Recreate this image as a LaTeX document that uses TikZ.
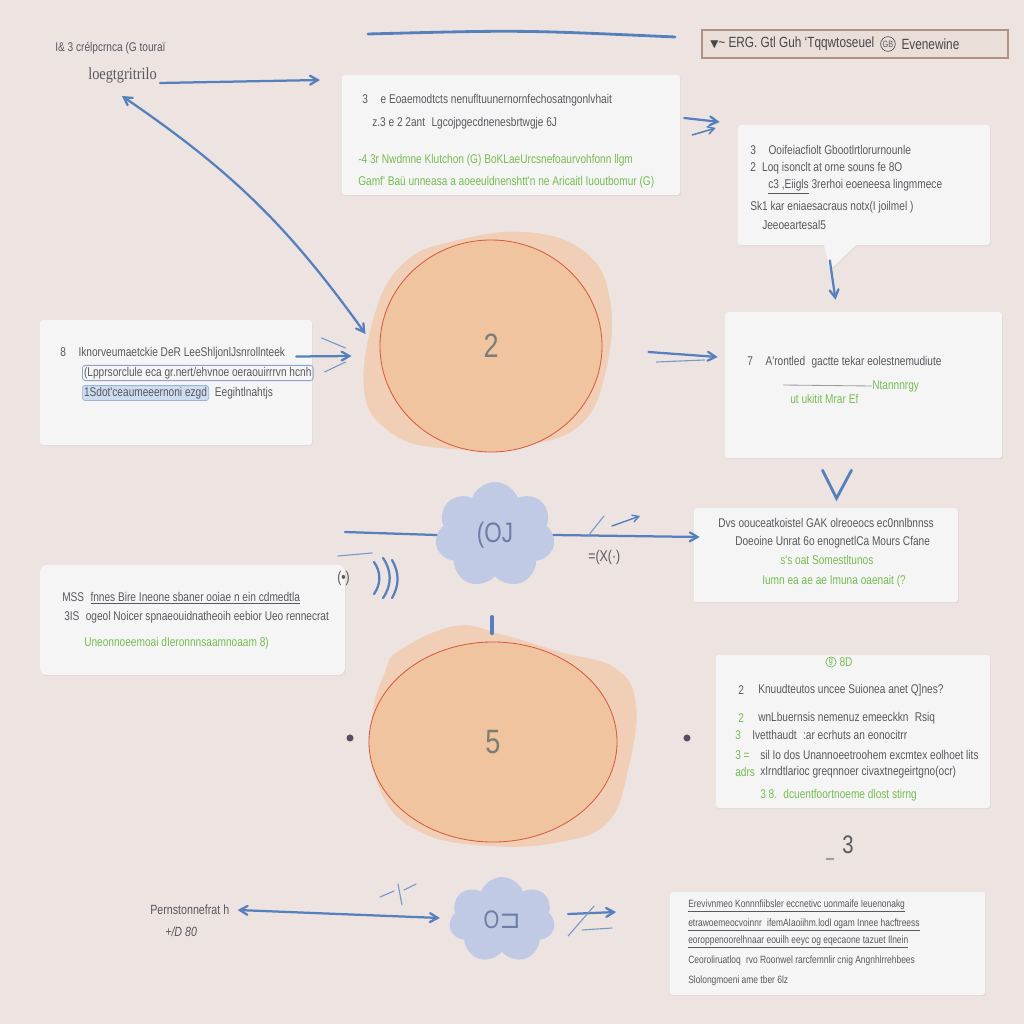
\documentclass[tikz,border=0pt]{standalone}
\usepackage{fontspec}
\setmainfont{Liberation Sans}
\newfontfamily\condfont{Liberation Sans}[FakeStretch=0.8]
\newfontfamily\serifcond{Liberation Serif}[FakeStretch=0.85]
\newfontfamily\symfont{DejaVu Sans}
\usepackage{xcolor}
\usepackage{tikz}
\usetikzlibrary{shapes.geometric, shapes.symbols, shapes.callouts, arrows}
\usetikzlibrary{fit, shadows}
\definecolor{paper}{RGB}{237,228,226}
\definecolor{cardwhite}{RGB}{246,245,245}
\definecolor{penblue}{RGB}{86,127,190}
\definecolor{inkgray}{RGB}{88,88,94}
\definecolor{leafgreen}{RGB}{118,188,82}
\definecolor{peach}{RGB}{240,196,158}
\definecolor{peachlight}{RGB}{241,206,182}
\definecolor{rimred}{RGB}{214,92,62}
\definecolor{mist}{RGB}{192,202,228}
\definecolor{mistink}{RGB}{110,125,165}
\definecolor{tagfill}{RGB}{233,222,216}
\definecolor{tagrim}{RGB}{176,146,132}
\definecolor{hlblue}{RGB}{205,220,238}
\definecolor{numgray}{RGB}{125,125,125}
\tikzstyle{card} = [rectangle, rounded corners=2pt, inner sep=0pt, fill=cardwhite, draw=none, drop shadow={shadow xshift=0.6pt, shadow yshift=-0.8pt, opacity=0.10}]
\tikzstyle{tag} = [rectangle, inner sep=0pt, fill=tagfill, draw=tagrim, line width=1.2pt]
\tikzstyle{txt} = [anchor=west, inner sep=0pt, text=inkgray, font=\condfont\fontsize{9}{9}\selectfont]
\tikzstyle{gtxt} = [txt, text=leafgreen]
\tikzstyle{htxt} = [txt, font=\condfont\fontsize{7.5}{9}\selectfont]
\tikzstyle{ring} = [circle, draw, line width=0.5pt, inner sep=0.6pt, font=\condfont\fontsize{6.5}{6.5}\selectfont]
\tikzstyle{pen} = [draw=penblue, line width=1.6pt, line cap=round]
\tikzstyle{thinpen} = [draw=penblue!80, line width=0.8pt, line cap=round]
\tikzstyle{arrow} = [pen, ->, >=angle 60]
\tikzstyle{disc} = [ellipse, fill=peach, draw=rimred, line width=0.6pt, text=numgray, font=\condfont\fontsize{24}{24}\selectfont]
\tikzstyle{puff} = [cloud, cloud puffs=7, cloud puff arc=140, cloud ignores aspect, fill=mist, draw=none, inner sep=0pt, text=mistink, font=\condfont\fontsize{20}{20}\selectfont]
\tikzstyle{dotst} = [circle, fill=inkgray!85!violet, inner sep=0pt, minimum size=5pt]
\begin{document}
\begin{tikzpicture}[x=0.025cm, y=-0.025cm]
  \useasboundingbox (0,0) rectangle (1024,1024);
  \fill[paper] (0,0) rectangle (1024,1024);

  \coordinate (rule1) at (368,34);
  \coordinate (rule2) at (675,37);
  \draw[pen, line width=2pt] (rule1) .. controls (520,30) .. (rule2);

  \node[tag, fit={(702,30) (1008,58)}] (tag) {};
  \node[txt, text=inkgray!80!black, font=\condfont\fontsize{10.5}{11}\selectfont] (tagtxt) at (710,44)
    {{\symfont\fontsize{7.5}{7.5}\selectfont ▼}\textasciitilde{} ERG. Gtl Guh ‘Tqqwtoseuel};
  \node[ring, text=inkgray, draw=inkgray, anchor=west] (tagring) at ([xshift=4pt]tagtxt.east) {GB};
  \node[txt, text=inkgray!80!black, font=\condfont\fontsize{10.5}{11}\selectfont] (tagtxt2) at ([xshift=4pt]tagring.east) {Evenewine};

  \node[txt, font=\condfont\fontsize{9}{10}\selectfont] (ttlA) at (55,48) {I\& 3 crélpcrnca (G touraï};
  \node[txt, font=\serifcond\fontsize{12}{13}\selectfont] (ttlB) at (88,75) {loegtgritrilo};

  \node[card, fit={(342,75) (680,195)}] (cardA) {};
  \node[txt] (a1) at (362,100) {3\quad e Eoaemodtcts nenufltuunernornfechosatngonlvhait};
  \node[txt] (a2) at (372,123) {z.3 e 2 2ant\enspace Lgcojpgecdnenesbrtwgje 6J};
  \node[gtxt] (a3) at (358,160) {-4 3r Nwdmne Klutchon (G) BoKLaeUrcsnefoaurvohfonn llgm};
  \node[gtxt] (a4) at (358,182) {Gamf' Baü unneasa a aoeeuldnenshtt'n ne Aricaitl Iuoutbomur (G)};

  \node[card, rectangle callout, callout absolute pointer={(830,270)}, callout pointer width=0.8cm,
        minimum width=6.3cm, minimum height=3cm] (bubble) at (864,185) {};
  \node[txt] (b1) at (750,150) {3\quad Ooifeiacfiolt Gbootlrtlorurnounle};
  \node[txt] (b2) at (750,168) {2\enspace Loq isonclt at orne souns fe 8O};
  \node[txt] (b3) at (768,187) {\underline{c3 ,Eiigls} 3rerhoi eoeneesa lingmmece};
  \node[txt] (b4) at (750,207) {Sk1 kar eniaesacraus notx(I joilmel )};
  \node[txt] (b5) at (762,225) {Jeeoeartesal5};

  \fill[peachlight] plot[smooth cycle, tension=0.7] coordinates
    {(450,242) (525,232) (585,252) (610,300) (606,370) (580,425) (520,446) (440,448) (390,432) (364,390) (376,310) (405,262)};
  \node[disc, minimum width=5.55cm, minimum height=5.3cm] (c1) at (491,346) {2};

  \node[card, fit={(40,320) (312,445)}] (cardC) {};
  \node[txt] (c1t) at (60,353) {8\quad Iknorveumaetckie DeR LeeShljonlJsnrollnteek};
  \node[txt, draw=penblue!70, line width=0.6pt, rounded corners=2pt, inner sep=1.2pt] (c2t) at (82,373) {(Lpprsorclule eca gr.nert/ehvnoe oeraouirrrvn hcnh};
  \node[txt, fill=hlblue, draw=penblue!60, line width=0.5pt, rounded corners=2pt, inner sep=1.2pt] (c3t) at (82,393) {1Sdot'ceaumeeernoni ezgd};
  \node[txt] (c4t) at ([xshift=4pt]c3t.east) {Eegihtlnahtjs};

  \node[card, fit={(725,312) (1002,458)}] (cardD) {};
  \node[txt] (d1) at (747,362) {7\quad A'rontled\enspace gactte tekar eolestnemudiute};
  \coordinate (dLine) at (783,385);
  \node[gtxt] (d2) at (872,386) {Ntannnrgy};
  \draw[inkgray!60, line width=0.6pt] (dLine) -- (d2.west);
  \node[gtxt] (d3) at (790,399) {ut ukitit Mrar Ef};

  \node[card, fit={(694,508) (958,602)}] (cardE) {};
  \node[txt] (e1) at (718,523) {Dvs oouceatkoistel GAK olreoeocs ec0nnlbnnss};
  \node[txt] (e2) at (735,542) {Doeoine Unrat 6o enognetlCa Mours Cfane};
  \node[gtxt] (e3) at (780,560) {s's oat Somestltunos};
  \node[gtxt] (e4) at (762,581) {Iumn ea ae ae Imuna oaenait (?};

  \node[puff, minimum width=3cm, minimum height=2.65cm] (cl1) at (495,535) {(OJ};
  \coordinate (feed) at (345,532);
  \draw[pen] (feed) -- (cl1.west);
  \draw[arrow] (cl1.east) -- ([shift={(6,-18)}]cardE.west);
  \draw[thinpen] (588,536) -- (604,516);
  \draw[arrow, line width=1pt] (612,526) -- (640,516);
  \node[txt, font=\condfont\fontsize{11}{11}\selectfont] (xlabel) at (588,557) {=(X(·)};

  \node[card, rounded corners=5pt, fit={(40,565) (345,675)}] (cardF) {};
  \node[txt] (f1) at (62,598) {MSS\enspace \underline{fnnes Bire Ineone sbaner ooiae n ein cdmedtla}};
  \node[txt] (f2) at (64,617) {3IS\enspace ogeol Noicer spnaeouidnatheoih eebior Ueo rennecrat};
  \node[gtxt] (f3) at (84,643) {Uneonnoeemoai dIeronnnsaamnoaam 8)};

  \node[txt, font=\condfont\fontsize{11}{11}\selectfont] (sig) at (337,578) {(•)};
  \draw[thinpen] (338,556) -- (372,553);
  \draw[pen] (374,562) to[bend left=35] (374,594);
  \draw[pen] (383,558) to[bend left=35] (383,598);
  \draw[pen] (392,560) to[bend left=30] (392,598);

  \fill[peachlight] plot[smooth cycle, tension=0.7] coordinates
    {(400,650) (455,626) (500,634) (560,652) (615,668) (636,705) (628,770) (608,822) (560,842) (490,846) (420,832) (380,790) (372,720) (385,672)};
  \node[disc, minimum width=6.2cm, minimum height=5cm, text=numgray!90!olive] (c2) at (493,742) {5};
  \draw[pen, line width=2.2pt] ([shift={(-1,-25)}]c2.north) -- ([shift={(-1,-8)}]c2.north);
  \node[dotst] (dotL) at (350,738) {};
  \node[dotst] (dotR) at (687,738) {};

  \node[card, fit={(716,655) (990,808)}] (cardG) {};
  \node[ring, text=leafgreen, draw=leafgreen, anchor=center] (g0r) at (831,662) {g};
  \node[gtxt] (g0) at ([xshift=2pt]g0r.east) {8D};
  \node[txt] (g1n) at (738,690) {2};
  \node[txt] (g1) at (758,690) {Knuudteutos uncee Suionea anet Q]nes?};
  \node[gtxt] (g2n) at (738,718) {2};
  \node[txt] (g2) at (758,718) {wnLbuernsis nemenuz emeeckkn\enspace Rsiq};
  \node[gtxt] (g3n) at (735,735) {3};
  \node[txt] (g3) at (752,735) {Ivetthaudt\enspace :ar ecrhuts an eonocitrr};
  \node[gtxt] (g4n) at (735,755) {3 =};
  \node[txt] (g4) at (760,755) {sil Io dos Unannoeetroohem excmtex eolhoet lits};
  \node[gtxt] (g5n) at (735,772) {adrs};
  \node[txt] (g5) at (760,772) {xIrndtlarioc greqnnoer civaxtnegeirtgno(ocr)};
  \node[gtxt] (g6) at (760,795) {3 8.\enspace dcuentfoortnoeme dlost stirng};

  \node[txt, font=\condfont\fontsize{18}{18}\selectfont] (three) at (842,845) {3};
  \draw[inkgray!60, line width=0.8pt] ([shift={(-16,14)}]three.west) -- ([shift={(-8,14)}]three.west);

  \node[txt, font=\condfont\fontsize{9.5}{10}\selectfont] (bt1) at (150,910) {Pernstonnefrat h};
  \node[txt, font=\condfont\itshape\fontsize{9.5}{10}\selectfont] (bt2) at (165,932) {+/D 80};
  \node[puff, minimum width=2.65cm, minimum height=2.15cm, font=\condfont\fontsize{18}{18}\selectfont] (cl2) at (502,920) {O{\symfont ⊐}};
  \draw[arrow, <->] ([xshift=0.2cm]bt1.east) -- ([shift={(-10,-2)}]cl2.west);
  \draw[thinpen] (380,897) -- (394,891);
  \draw[thinpen] (398,884) -- (402,905);
  \draw[thinpen] (404,890) -- (416,884);
  \draw[arrow] ([shift={(14,-6)}]cl2.east) -- ([shift={(62,-8)}]cl2.east);
  \draw[thinpen] ([shift={(28,10)}]cl2.east) -- ([shift={(58,8)}]cl2.east);
  \draw[thinpen] ([shift={(14,16)}]cl2.east) -- ([shift={(40,-14)}]cl2.east);

  \node[card, fit={(670,892) (985,995)}] (cardH) {};
  \node[htxt] (h1) at (688,906) {\underline{Erevivnmeo Konnnfiibsler eccnetivc uonmaife Ieuenonakg}};
  \node[htxt] (h2) at (688,925) {\underline{etrawoemeocvoinnr\enspace ifemAIaoiihm.lodl ogam Innee hacftreess}};
  \node[htxt] (h3) at (688,942) {\underline{eoroppenoorelhnaar eouilh eeyc og eqecaone tazuet Ilnein}};
  \node[htxt] (h4) at (688,961) {Ceoroliruatloq\enspace rvo Roonwel rarcfemnlir cnig Angnhlrrehbees};
  \node[htxt] (h5) at (688,981) {Slolongmoeni ame tber 6lz};

  \coordinate (tip1) at (320,80);
  \draw[arrow] ([shift={(3,8)}]ttlB.east) -- (tip1);
  \coordinate (tip2) at (122,96);
  \draw[arrow, <->] (tip2) to[bend left=10] ([shift={(-14,-12)}]c1.west);
  \draw[arrow] ([shift={(4,-17)}]cardA.east) -- ([shift={(-18,-63)}]bubble.west);
  \draw[arrow, line width=1.1pt] ([shift={(12,0)}]cardA.east) -- ([shift={(-22,-57)}]bubble.west);
  \draw[arrow] ([shift={(0,-10)}]bubble.pointer) -- ([shift={(-28,-12)}]cardD.north);
  \draw[arrow] ([shift={(-16,-26)}]cardC.east) -- ([shift={(-28,10)}]c1.west);
  \draw[thinpen] ([shift={(-58,-8)}]c1.west) -- ([shift={(-34,2)}]c1.west);
  \draw[thinpen] ([shift={(-55,26)}]c1.west) -- ([shift={(-34,16)}]c1.west);
  \draw[arrow] ([shift={(46,6)}]c1.east) -- ([shift={(-7,-28)}]cardD.west);
  \draw[thinpen] ([shift={(54,16)}]c1.east) -- ([shift={(102,14)}]c1.east);
  \draw[pen, line width=2pt] ([shift={(-41,12)}]cardD.south) -- ([shift={(-27,40)}]cardD.south) -- ([shift={(-12,12)}]cardD.south);
\end{tikzpicture}
\end{document}
